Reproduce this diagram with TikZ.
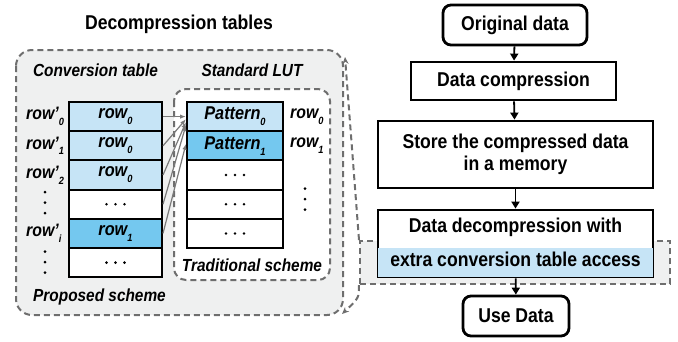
\documentclass[tikz,border=0pt]{standalone}
\usepackage{fontspec}
\setmainfont{Liberation Sans}[FakeStretch=0.88]
\usetikzlibrary{arrows.meta,calc}
\definecolor{lblue}{HTML}{C6E4F6}
\definecolor{mblue}{HTML}{74C8EF}
\definecolor{bggray}{HTML}{EFF0F0}
\definecolor{dgray}{HTML}{6E6E6E}
\definecolor{agray}{HTML}{7A7A7A}
\newcommand{\sbs}[1]{\raisebox{-0.6ex}{\fontsize{10.5}{10.5}\selectfont #1}}
\begin{document}
\begin{tikzpicture}[x=1pt,y=-1pt,
  flow/.style={draw=black, line width=2.8pt, fill=white, inner sep=0pt,
    font=\fontsize{20}{23}\selectfont\bfseries, align=center},
  cell/.style={draw=black, line width=2pt, minimum height=29.2, inner sep=0pt,
    font=\fontsize{18.5}{18.5}\selectfont\bfseries\itshape},
  ccell/.style={cell, minimum width=93},
  lcell/.style={cell, minimum width=96},
  lbl/.style={inner sep=0pt, font=\fontsize{18}{18}\selectfont\bfseries\itshape},
  hdr/.style={inner sep=0pt, font=\fontsize{17.5}{18}\selectfont\bfseries\itshape},
  dashbox/.style={draw=dgray, line width=2pt, dash pattern=on 6pt off 4pt},
  garrow/.style={draw=agray, line width=1.2pt, -{Latex[length=6pt,width=4.5pt]}},
  farrow/.style={draw=black, line width=1.8pt, -{Triangle[length=7pt,width=8pt]}},
  dotc/.style={fill=black}
]
\useasboundingbox (0,0) rectangle (678,341);

% ---------- left part ----------
\node[inner sep=0pt, font=\fontsize{20}{20}\selectfont\bfseries] (title) at (179,24) {Decompression tables};
\draw[dashbox, fill=bggray, rounded corners=16] (16,50) rectangle (343,315);
\draw[dashbox, fill=white, rounded corners=12] (174,89) rectangle (330,280);

\node[hdr] (hconv) at (95.5,70) {Conversion table};
\node[hdr] (hlut) at (252,70) {Standard LUT};
\node[hdr] (htrad) at (252,265) {Traditional scheme};
\node[hdr] (hprop) at (99.5,297) {Proposed scheme};

% conversion table
\node[ccell, fill=lblue] (c0) at (115.5,116.6) {row\sbs{0}};
\node[ccell, fill=lblue] (c1) at (115.5,145.8) {row\sbs{0}};
\node[ccell, fill=lblue] (c2) at (115.5,175.0) {row\sbs{0}};
\node[ccell, fill=white] (c3) at (115.5,204.2) {};
\node[ccell, fill=mblue] (c4) at (115.5,233.4) {row\sbs{1}};
\node[ccell, fill=white] (c5) at (115.5,262.6) {};

% standard LUT
\node[lcell, fill=lblue] (p0) at (235,116.6) {Pattern\sbs{0}};
\node[lcell, fill=mblue] (p1) at (235,145.8) {Pattern\sbs{1}};
\node[lcell, fill=white] (p2) at (235,175.0) {};
\node[lcell, fill=white] (p3) at (235,204.2) {};
\node[lcell, fill=white] (p4) at (235,233.4) {};

% horizontal dots in cells
\foreach \n in {c3,c5,p2,p3,p4}{
  \fill[dotc] ($(\n.center)+(-9,0)$) circle (1.4);
  \fill[dotc] (\n.center) circle (1.4);
  \fill[dotc] ($(\n.center)+(9,0)$) circle (1.4);
}

% left labels
\node[lbl, anchor=west] (l0) at (26,116.6) {row’\sbs{0}};
\node[lbl, anchor=west] (l1) at (26,145.8) {row’\sbs{1}};
\node[lbl, anchor=west] (l2) at (26,175.0) {row’\sbs{2}};
\node[lbl, anchor=west] (li) at (26,233.4) {row’\sbs{i}};
\foreach \y in {192,202.5,213,251.5,262,272.5}{\fill[dotc] (45,\y) circle (1.5);}

% right labels
\node[lbl, anchor=west] (r0) at (290,116.6) {row\sbs{0}};
\node[lbl, anchor=west] (r1) at (290,145.8) {row\sbs{1}};
\foreach \y in {188.5,199,209.5}{\fill[dotc] (305,\y) circle (1.5);}

% mapping arrows
\draw[garrow] (c0.east) -- (p0.west);
\draw[garrow] (c1.east) -- ($(p0.west)+(0,2.5)$);
\draw[garrow] (c2.east) -- ($(p0.west)+(0,5.5)$);
\draw[garrow] (c3.east) -- ($(p0.west)+(0,8.5)$);
\draw[garrow] (c4.east) -- ($(p1.west)+(0,-2)$);

% ---------- right part ----------
\node[flow, rounded corners=8, minimum width=144, minimum height=40] (f1) at (515,25) {Original data};
\node[flow, minimum width=205, minimum height=38] (f2) at (513.5,81) {Data compression};
\node[flow, minimum width=275, minimum height=67] (f3) at (515.5,154.5) {Store the compressed data\\[-1pt]in a memory};

\node[dashbox, fill=bggray, minimum width=310, minimum height=43, inner sep=0pt] (dr) at (515,262.5) {};
\node[flow, minimum width=275, minimum height=67] (f4) at (515.5,243.5) {};
\fill[lblue] ($(f4.south west)+(1.4,-1.4)$) rectangle ($(f4.south east)+(-1.4,-30)$);
\node[inner sep=0pt, font=\fontsize{20}{23}\selectfont\bfseries] (t4a) at (515.5,227.5) {Data decompression with};
\node[inner sep=0pt, font=\fontsize{20}{23}\selectfont\bfseries] (t4b) at (515.5,259) {extra conversion table access};

\node[flow, rounded corners=8, minimum width=106, minimum height=40] (f5) at (516,316) {Use Data};

\draw[farrow] (f1) -- (f2);
\draw[farrow] (f2) -- (f3);
\draw[farrow] (f3) -- (f4);
\draw[farrow] (f4) -- (f5);

% callout arrows
\coordinate (ctop) at (345,57);
\coordinate (cbot) at (342,314);
\draw[dashbox, -{Stealth[length=7pt,width=6pt]}] (dr.north west) -- (ctop);
\draw[dashbox, -{Stealth[length=7pt,width=6pt]}] (dr.south west) .. controls (359,298) .. (cbot);
\end{tikzpicture}
\end{document}
